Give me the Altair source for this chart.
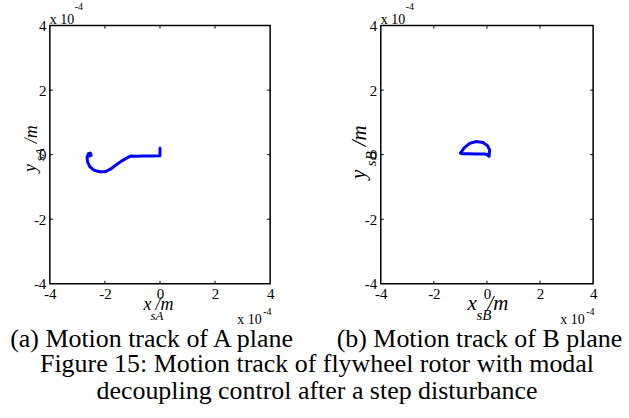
import altair as alt
import pandas as pd

# Rotor centre trajectories (units of 1e-4 m)
xa = [0.00, 0.00, -0.30, -0.60, -0.90, -1.05, -1.20, -1.40, -1.60, -1.80,
      -2.00, -2.20, -2.40, -2.55, -2.63, -2.65, -2.60, -2.53, -2.50, -2.56]
ya = [0.20, -0.03, -0.04, -0.04, -0.05, -0.04, -0.10, -0.20, -0.32, -0.45,
      -0.53, -0.53, -0.48, -0.37, -0.22, -0.08, 0.03, 0.05, -0.02, -0.04]

xb = [0.00, 0.08, 0.10, 0.02, -0.15, -0.40, -0.65, -0.85, -1.00,
      -0.95, -0.70, -0.40, -0.10, 0.05]
yb = [0.00, -0.05, 0.15, 0.28, 0.38, 0.41, 0.35, 0.22, 0.05,
      0.03, 0.03, 0.02, 0.02, 0.00]

tick_values = [-4, -2, 0, 2, 4]
inner_ticks = [-2, 0, 2]

FONT = "Liberation Serif"
BLUE = "#0000ff"
H = 259
one = alt.Data(values=[{}])


def txt(s, x, y, size, italic=False, angle=0, align="left"):
    return alt.Chart(one).mark_text(
        text=s, font=FONT, fontSize=size, color="black",
        fontStyle="italic" if italic else "normal",
        align=align, baseline="alphabetic", angle=angle,
    ).encode(x=alt.value(x), y=alt.value(y))


def panel(xs, ys, width, sub, tfs, sfs, xt, yt):
    df = pd.DataFrame({"x": xs, "y": ys, "i": range(len(xs))})
    tdf = pd.DataFrame({"t": inner_ticks})
    sc = alt.Scale(domain=[-4, 4], nice=False, zero=False)
    ax = dict(values=tick_values, labelExpr="'' + datum.value", title=None,
              ticks=False, domain=False, grid=False, labelFont=FONT,
              labelFontSize=15, labelColor="black", labelFlush=False,
              labelOverlap=False)
    X = alt.X("x:Q", scale=sc, axis=alt.Axis(labelPadding=3, **ax))
    Y = alt.Y("y:Q", scale=sc, axis=alt.Axis(labelPadding=4, **ax))

    track = alt.Chart(df).mark_line(color=BLUE, strokeWidth=3,
                                    strokeJoin="round", strokeCap="round").encode(
        x=X, y=Y, order="i:Q")

    tx = alt.X("t:Q", scale=sc, axis=alt.Axis(labelPadding=3, **ax))
    ty = alt.Y("t:Q", scale=sc, axis=alt.Axis(labelPadding=4, **ax))
    tb = alt.Chart(tdf).mark_rule(color="black", strokeWidth=1)
    ticks = [
        tb.encode(x=tx, y=alt.value(H), y2=alt.value(H - 3)),
        tb.encode(x=tx, y=alt.value(0), y2=alt.value(3)),
        tb.encode(y=ty, x=alt.value(0), x2=alt.value(3)),
        tb.encode(y=ty, x=alt.value(width), x2=alt.value(width - 3)),
    ]

    # exponent markers
    texts = [
        txt("x 10", 0, -2, 14), txt("-4", 25, -16, 10),
        txt("x 10", width - 33, H + 40, 14), txt("-4", width - 7, H + 31, 10),
    ]
    # axis titles x_s?/m and y_s?/m
    texts += [
        txt("x", xt[0], H + 26, tfs, True),
        txt("s" + sub, xt[0] + xt[1], H + 36, sfs, True),
        txt("/m", xt[0] + xt[2], H + 26, tfs, True),
        txt("y", yt[0], yt[1], tfs, True, 270),
        txt("s" + sub, yt[0] + yt[2], yt[1] - yt[3], sfs, True, 270),
        txt("/m", yt[0] + 1, yt[1] - yt[4], tfs, True, 270),
    ]
    return alt.layer(track, *ticks, *texts).properties(width=width, height=H)


left = panel(xa, ya, 221, "A", 18, 13, (94, 7, 12), (-14, 147, 8, 11, 29))
right = panel(xb, yb, 213, "B", 21, 15, (87, 9, 20), (-16, 154, 11, 13, 33))

# page frame that fixes the overall extent of the figure
page = alt.Chart(one).mark_rect(fill="white", fillOpacity=0, strokeOpacity=0).encode(
    x=alt.value(-49), x2=alt.value(580), y=alt.value(-24), y2=alt.value(394))

CAP = 26
left = alt.layer(
    page,
    left,
    txt("(a) Motion track of A plane", 102, 322, CAP, align="center"),
    txt("(b) Motion track of B plane", 431, 322, CAP, align="center"),
    txt("Figure 15: Motion track of flywheel rotor with modal", 268, 348, CAP, align="center"),
    txt("decoupling control after a step disturbance", 268, 375, CAP, align="center"),
)

chart = alt.hconcat(left, right, spacing=111, bounds="flush").properties(
    padding=0,
    background="white",
).configure_view(stroke="black", strokeWidth=1.5)

chart.save("out.html", embed_options={"renderer": "svg", "actions": False})
